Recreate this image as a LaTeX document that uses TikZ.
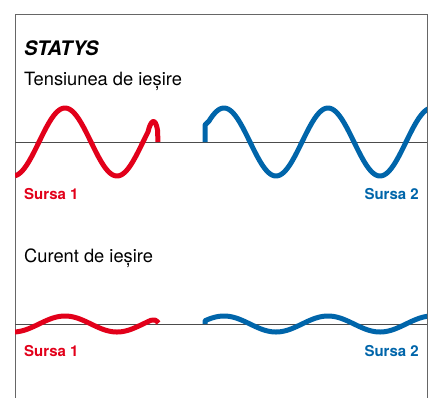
\documentclass[tikz,border=0pt]{standalone}
\usepackage{fontspec}
\setmainfont{TeX Gyre Heros}
\definecolor{sursared}{RGB}{226,0,26}
\definecolor{sursablue}{RGB}{0,101,170}
\begin{document}
\begin{tikzpicture}[x=1pt,y=-1pt,line join=round,line cap=butt]
	\tikzset{every node/.style={inner sep=0pt,anchor=base west},
		wave/.style={line width=5pt},
		axis/.style={line width=0.9pt,black!70},
		heading/.style={font=\fontsize{18.3}{18}\selectfont},
		src/.style={font=\fontsize{15}{15}\selectfont\bfseries}}
	\useasboundingbox (0,0) rectangle (434,397);
	\draw[line width=1pt,black!60,line join=miter](15,400)--(15,14)--(427,14)--(427,400);
	\node (title) at (24,55) {\fontsize{20}{20}\selectfont\bfseries\itshape STATYS};
	\node[heading] (volt) at (24,85) {Tensiunea de ieșire};
	\node[heading] (curr) at (24,262) {Curent de ieșire};
	\draw[axis](15,142)--(427,142);
	\draw[axis](15,324)--(427,324);
	\begin{scope}
		\clip (15,0) rectangle (427,397);
		\draw[wave,sursared] plot[samples=120,domain=15:148,smooth,variable=\x] (\x,{142-34*cos(3.4615*(\x-65))}) .. controls (150.5,121) and (155,116) .. (157.5,130) -- (158,142);
		\draw[wave,sursablue] (205,142) -- (205,125) -- plot[samples=150,domain=209:430,smooth,variable=\x] (\x,{142-34*cos(3.4615*(\x-224))});
		\draw[wave,sursared] plot[samples=120,domain=15:151,smooth,variable=\x] (\x,{324-8*cos(3.4615*(\x-65))}) .. controls (154,319) and (156,320) .. (158.5,323);
		\draw[wave,sursablue] (205,324) -- plot[samples=150,domain=205:430,smooth,variable=\x] (\x,{324-8*cos(3.4615*(\x-224))});
	\end{scope}
	\node[src,text=sursared] (srcVa) at (24,199) {Sursa 1};
	\node[src,text=sursablue,anchor=base east] (srcVb) at (419,199) {Sursa 2};
	\node[src,text=sursared] (srcCa) at (24,356) {Sursa 1};
	\node[src,text=sursablue,anchor=base east] (srcCb) at (419,356) {Sursa 2};
\end{tikzpicture}
\end{document}
